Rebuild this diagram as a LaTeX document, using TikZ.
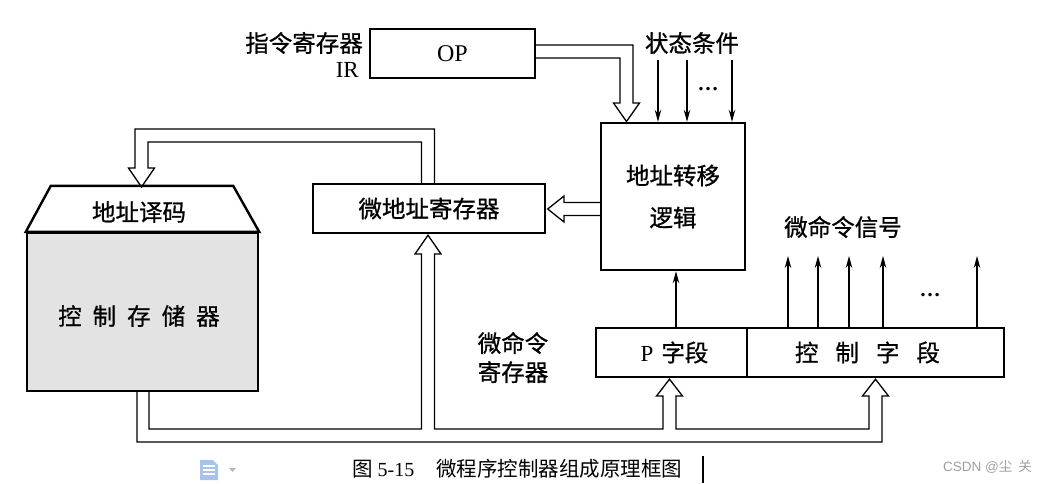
\documentclass[tikz,border=0pt]{standalone}
\usepackage{fontspec}
\setmainfont{Liberation Serif}
\newfontfamily\cjk[FakeBold=0.8]{Noto Sans CJK SC}
\newfontfamily\cjkcap{Noto Sans CJK SC}
\newfontfamily\wmfont{Liberation Sans}
\usetikzlibrary{arrows.meta,calc}
\newcommand\gp{\hspace{11pt}}
\newcommand\gq{\hspace{17pt}}
\definecolor{iconblue}{RGB}{168,195,232}
\begin{document}
\begin{tikzpicture}[x=1pt,y=-1pt,
  box/.style={draw, line width=2.4pt, inner sep=0pt, minimum height=49pt, font=\cjk\fontsize{23.5}{26}\selectfont},
  lbl/.style={inner sep=0pt, font=\cjk\fontsize{23.5}{26}\selectfont},
  bus/.style={draw, line width=1.3pt, line join=miter},
  sig/.style={draw, line width=1.3pt, -{Stealth[length=12pt,width=6.5pt]}},
  dots/.style={inner sep=0pt, font=\bfseries\fontsize{21}{21}\selectfont},
]
\useasboundingbox (0,0) rectangle (1045,483);

% boxes
\node[box, minimum width=165pt, font=\fontsize{24}{28}\selectfont] (op) at (452.5,53.5) {OP};
\node[box, minimum width=144pt, minimum height=147pt, align=center, font=\cjk\fontsize{23.5}{42}\selectfont] (logic) at (673,196.5) {地址转移\\逻辑};
\node[box, minimum width=232pt] (mar) at (429,208.5) {微地址寄存器};
\node[box, minimum width=151pt] (pf) at (671.5,352.5) {\hspace{6pt}{\rmfamily\fontsize{23}{26}\selectfont P}\hspace{8pt}字段};
\node[box, minimum width=257pt] (cf) at (875.5,352.5) {\hspace{-16pt}控\gq 制\gq 字\gq 段};

% control store with address decoder
\node[draw, line width=2.4pt, fill=gray!22, minimum width=231pt, minimum height=158pt, inner sep=0pt] (rom) at (142.5,312) {};
\draw[line width=2.4pt, fill=white, line join=miter] (rom.north west) -- ($(rom.north west)+(25,-46)$) -- ($(rom.north east)+(-26,-46)$) -- (rom.north east) -- cycle;
\node[lbl] (dec) at (139,212) {地址译码};
\node[lbl] (romtext) at (139,316) {控\gp 制\gp 存\gp 储\gp 器};

% labels
\node[lbl, anchor=east] (irlbl) at (363,43) {指令寄存器};
\node[anchor=east, inner sep=0pt, font=\fontsize{23}{26}\selectfont] (ir) at (359,70) {IR};
\node[lbl] (st) at (692,43) {状态条件};
\node[dots] (d1) at (708,89) {…};
\node[lbl] (mcs) at (843,227) {微命令信号};
\node[dots] (d2) at (930,295) {…};
\node[lbl, align=center, font=\cjk\fontsize{23.5}{29}\selectfont] (mir) at (513,357.5) {微命令\\寄存器};

% bus: OP -> address transfer logic
\draw[bus] ($(op.east)+(0,-8.5)$) -- (633,45) -- (633,103) -- (639.5,103) -- (626.5,121.5) -- (613.5,103) -- (620,103) -- (620,58) -- ($(op.east)+(0,4.5)$);
% bus: logic -> micro-address register
\draw[bus] ($(logic.west)+(0,6)$) -- (564,202.5) -- (564,196) -- ($(mar.east)+(1.5,0.5)$) -- (564,222) -- (564,215.5) -- ($(logic.west)+(0,19)$);
% bus: micro-address register -> address decoder
\draw[bus] ($(mar.north)+(-7.5,0)$) -- (421.5,142) -- (148,142) -- (148,168) -- (154.5,168) -- ($(dec)+(2.5,-25)$) -- (128.5,168) -- (135,168) -- (135,129) -- (434.5,129) -- ($(mar.north)+(5.5,0)$);
% bus: control store -> micro-address register, P field, control field
\draw[bus] ($(rom.south)+(-5.5,0)$) -- (137,442) -- (882,442) -- (882,396) -- (888.5,396) -- ($(cf.south)+(0,1)$) -- (862.5,396) -- (869,396) -- (869,429) -- (676,429) -- (676,396) -- (682.5,396) -- ($(pf.south)+(-2,1)$) -- (656.5,396) -- (663,396) -- (663,429) -- (434.5,429) -- (434.5,254) -- (441,254) -- ($(mar.south)+(-1,1)$) -- (415,254) -- (421.5,254) -- (421.5,429) -- (149,429) -- ($(rom.south)+(6.5,0)$);

% status condition inputs
\foreach \x in {658,687,732} \draw[sig] (\x,60) -- (\x,0 |- logic.north);
% P field -> logic
\coordinate (pa) at ($(pf.north)+(4.5,0)$);
\draw[sig] (pa) -- (pa |- logic.south);
% micro-command signals
\foreach \x in {788,818,849,883,977} \draw[sig] (\x,0 |- cf.north) -- (\x,256);

% caption line
\node[anchor=west, inner sep=0pt, font=\fontsize{20}{24}\selectfont] (cap) at (352,469) {{\cjkcap\fontsize{20.5}{24}\selectfont 图} 5-15\hspace{22pt}{\cjkcap\fontsize{20.5}{24}\selectfont 微程序控制器组成原理框图}};
\draw[line width=2pt] (703,456) -- (703,483);
\fill[iconblue] (200,460) -- (213,460) -- (218,465) -- (218,480) -- (200,480) -- cycle;
\foreach \yy in {466,470,474} \draw[white, line width=1.2pt] (203,\yy) -- (215,\yy);
\fill[gray!55] (229,468) -- (236,468) -- (232.5,472) -- cycle;
\node[anchor=west, inner sep=0pt, text=gray!75, font=\wmfont\fontsize{13.5}{16}\selectfont] (wm) at (943,467) {CSDN @{\cjkcap 尘\hspace{6pt}关}};
\end{tikzpicture}
\end{document}
